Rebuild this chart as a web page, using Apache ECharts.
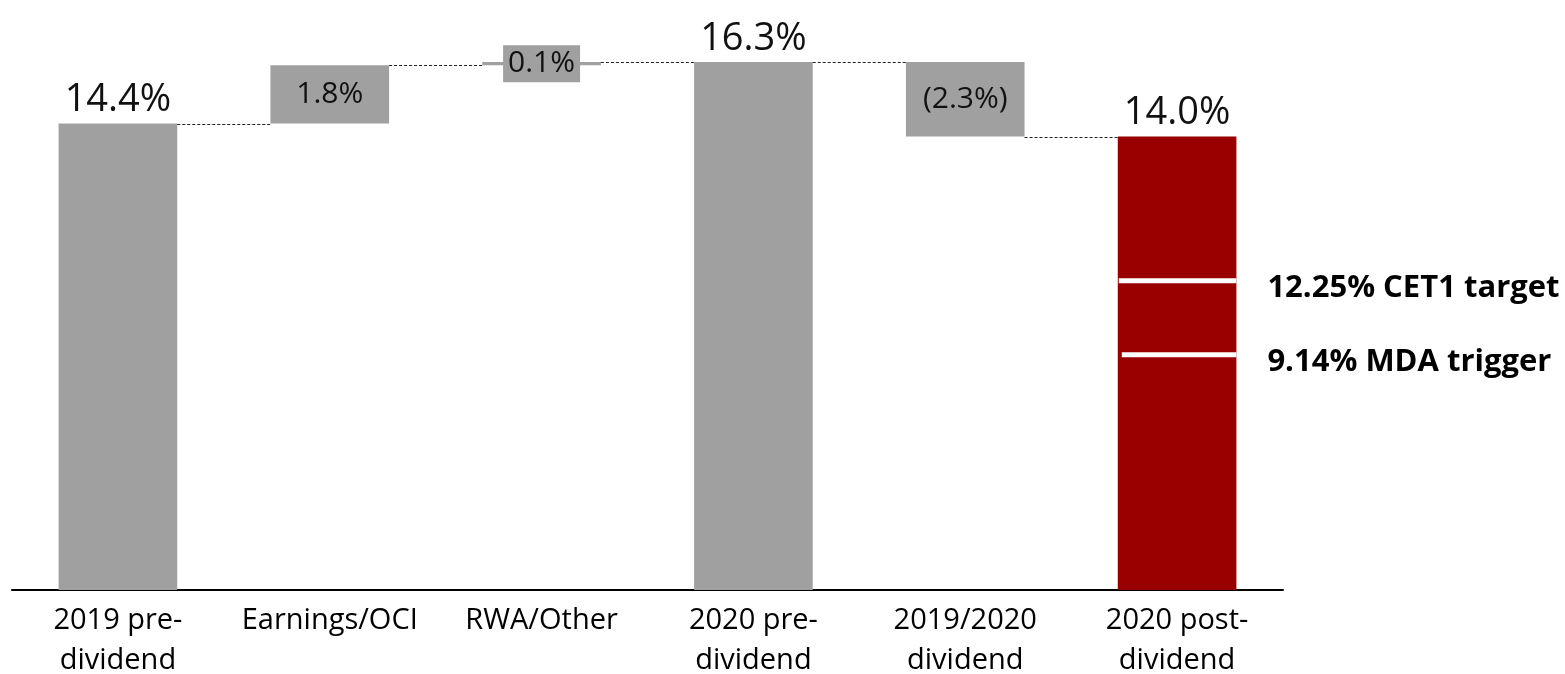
<!DOCTYPE html>
<html>
<head>
<meta charset="utf-8">
<script src="https://cdn.jsdelivr.net/npm/echarts@6/dist/echarts.min.js"></script>
<style>
html,body{margin:0;padding:0;background:#fff;}
#chart{width:1565px;height:674px;}
</style>
</head>
<body>
<div id="chart"></div>
<script>
const categories = ['2019 pre-\ndividend', 'Earnings/OCI', 'RWA/Other', '2020 pre-\ndividend', '2019/2020\ndividend', '2020 post-\ndividend'];
const baseValues = [0, 14.4, 16.2, 0, 14.0, 0];
const barValues = [14.4, 1.8, 0.1, 16.3, 2.3, 14.0];
const valueLabels = ['14.4%', '1.8%', '0.1%', '16.3%', '(2.3%)', '14.0%'];
const isTotal = [true, false, false, true, false, true];
const connectorLevels = [14.4, 16.2, 16.3, 16.3, 14.0];
const thresholdLevels = [9.55, 7.26];
const thresholdLabels = ['12.25% CET1 target', '9.14% MDA trigger'];
const thresholdCategory = 5;

const GREY = '#a0a0a0';
const RED = '#990000';
const FONT = '"Open Sans", "Noto Sans", sans-serif';
const BAR_FRAC = 0.56;

const chart = echarts.init(document.getElementById('chart'));

const valueData = barValues.map((v, i) => {
  const last = i === barValues.length - 1;
  const item = {
    value: v,
    itemStyle: { color: last ? RED : GREY },
    label: isTotal[i]
      ? { position: 'top', distance: 4, fontSize: 38 }
      : { position: 'inside', fontSize: 30 }
  };
  if (v < 0.5 && !isTotal[i]) {
    item.label.backgroundColor = GREY;
    item.label.padding = [4, 5, 3, 5];
  }
  return item;
});

chart.setOption({
  animation: false,
  grid: { left: 12, right: 282, top: 7, bottom: 84, outerBoundsMode: 'none' },
  xAxis: {
    type: 'category',
    data: categories,
    axisLine: { lineStyle: { color: '#000', width: 2 } },
    axisTick: { show: false },
    axisLabel: {
      color: '#000', fontSize: 29, fontFamily: FONT, lineHeight: 40, margin: 11, interval: 0
    }
  },
  yAxis: { type: 'value', min: 0, max: 18, show: false, splitLine: { show: false } },
  series: [
    {
      type: 'bar', stack: 'w', data: baseValues, barWidth: (BAR_FRAC * 100) + '%',
      itemStyle: { color: 'transparent' }, silent: true
    },
    {
      type: 'bar', stack: 'w', data: valueData, barWidth: (BAR_FRAC * 100) + '%',
      label: {
        show: true, color: '#111', fontFamily: FONT,
        formatter: p => valueLabels[p.dataIndex]
      }
    },
    {
      type: 'custom',
      data: connectorLevels.map((lv, i) => [i, lv]),
      encode: { x: 0, y: 1 },
      z: 5,
      renderItem: (params, api) => {
        const p = api.coord([api.value(0), api.value(1)]);
        const band = api.size([1, 0])[0];
        const bw = band * BAR_FRAC;
        return {
          type: 'line',
          shape: { x1: p[0] + bw / 2, y1: Math.round(p[1]) + 0.5, x2: p[0] + band - bw / 2, y2: Math.round(p[1]) + 0.5 },
          style: { stroke: '#222', lineWidth: 1, lineDash: [3, 2] }
        };
      }
    },
    {
      type: 'custom',
      data: thresholdLevels.map((lv, i) => [thresholdCategory, lv, i]),
      encode: { x: 0, y: 1 },
      z: 6,
      renderItem: (params, api) => {
        const p = api.coord([api.value(0), api.value(1)]);
        const band = api.size([1, 0])[0];
        const bw = band * BAR_FRAC;
        const idx = api.value(2);
        return {
          type: 'group',
          children: [
            { type: 'rect', shape: { x: p[0] - bw / 2 + 1 + idx * 3, y: p[1] - 2.5, width: bw - 1 - idx * 3, height: 5 }, style: { fill: '#fff' } },
            { type: 'text', style: {
                x: p[0] + bw / 2 + 31, y: p[1] + 7,
                text: thresholdLabels[idx], fill: '#000',
                font: 'bold 31px ' + FONT, verticalAlign: 'middle', align: 'left'
              } }
          ]
        };
      }
    }
  ]
});
</script>
</body>
</html>
